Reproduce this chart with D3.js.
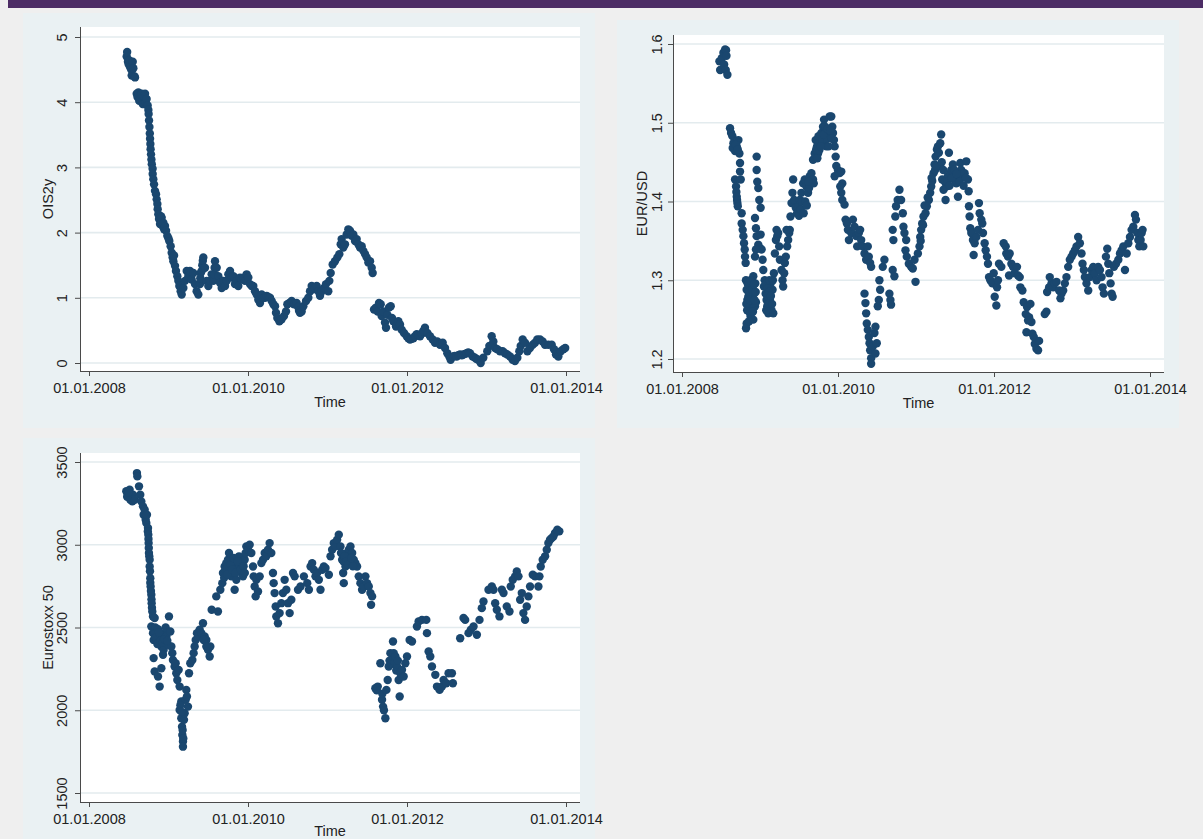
<!DOCTYPE html>
<html><head><meta charset="utf-8">
<script src="https://cdn.jsdelivr.net/npm/d3@7"></script>
<style>
html,body{margin:0;padding:0;background:#efefef;}
svg{display:block;}
text{font-family:"Liberation Sans",Arial,Helvetica,sans-serif;}
</style></head><body>
<svg id="chart" width="1203" height="839"></svg>
<script>
// ---------- DATA (decimal year, value) ----------
const xTickValues = [2008, 2010, 2012, 2014];
const xTickLabels = ["01.01.2008", "01.01.2010", "01.01.2012", "01.01.2014"];
const oisTicks = [0, 1, 2, 3, 4, 5];
const eurTicks = [1.2, 1.3, 1.4, 1.5, 1.6];
const stoxxTicks = [1500, 2000, 2500, 3000, 3500];

const ois2y = [
[2008.474,4.70],[2008.480,4.77],[2008.490,4.62],[2008.500,4.58],[2008.508,4.64],[2008.516,4.54],[2008.530,4.50],[2008.537,4.41],[2008.550,4.62],[2008.558,4.52],[2008.570,4.40],[2008.579,4.38],
[2008.600,4.13],[2008.610,4.08],[2008.621,4.15],[2008.632,4.02],[2008.642,4.05],[2008.652,4.12],[2008.662,4.13],[2008.673,3.98],[2008.684,3.97],[2008.695,4.08],[2008.705,4.13],[2008.715,4.00],[2008.725,4.05],[2008.738,3.95],[2008.747,3.88],
[2008.750,3.82],[2008.755,3.72],[2008.760,3.62],[2008.765,3.52],[2008.768,3.44],[2008.772,3.36],[2008.775,3.28],[2008.780,3.20],[2008.785,3.12],[2008.790,3.05],[2008.800,2.98],
[2008.801,2.90],[2008.809,2.82],[2008.818,2.74],[2008.830,2.64],[2008.843,2.59],[2008.851,2.51],[2008.860,2.44],[2008.864,2.36],[2008.872,2.28],[2008.881,2.21],[2008.893,2.13],
[2008.905,2.25],[2008.914,2.23],[2008.925,2.10],[2008.935,2.15],[2008.945,2.05],[2008.956,2.10],[2008.969,2.03],[2008.985,1.95],[2009.000,1.91],[2009.010,1.87],[2009.027,1.79],[2009.040,1.69],[2009.052,1.62],[2009.061,1.56],[2009.070,1.65],[2009.082,1.49],[2009.094,1.41],[2009.111,1.33],[2009.124,1.26],[2009.136,1.18],[2009.153,1.10],[2009.166,1.05],
[2009.187,1.15],[2009.208,1.26],[2009.229,1.41],[2009.250,1.33],[2009.270,1.41],[2009.291,1.28],[2009.312,1.38],[2009.333,1.21],[2009.354,1.10],[2009.375,1.05],[2009.396,1.21],[2009.400,1.30],[2009.405,1.38],[2009.417,1.41],[2009.425,1.50],[2009.432,1.57],[2009.438,1.62],[2009.459,1.46],[2009.480,1.26],[2009.501,1.18],[2009.522,1.26],[2009.543,1.36],[2009.564,1.26],[2009.575,1.36],[2009.580,1.46],[2009.585,1.56],[2009.606,1.46],[2009.627,1.33],[2009.648,1.23],[2009.669,1.15],[2009.690,1.26],[2009.711,1.18],[2009.732,1.26],[2009.753,1.36],[2009.774,1.41],[2009.795,1.31],[2009.816,1.33],[2009.836,1.21],[2009.857,1.26],[2009.878,1.18],[2009.899,1.31],[2009.920,1.28],[2009.941,1.31],[2009.962,1.26],[2009.983,1.36],[2010.004,1.31],[2010.025,1.21],[2010.046,1.18],
[2010.067,1.18],[2010.088,1.10],[2010.109,1.05],[2010.130,0.97],[2010.151,0.92],[2010.172,1.05],[2010.193,1.00],[2010.214,1.00],[2010.235,1.03],[2010.256,1.01],[2010.277,1.00],[2010.298,0.95],[2010.319,0.90],[2010.340,0.87],[2010.352,0.77],[2010.369,0.69],[2010.394,0.64],[2010.408,0.66],[2010.423,0.67],[2010.453,0.72],[2010.478,0.79],[2010.495,0.90],[2010.520,0.92],[2010.549,0.95],[2010.579,0.90],[2010.612,0.92],[2010.630,0.86],[2010.642,0.80],[2010.654,0.77],[2010.675,0.79],[2010.696,0.87],[2010.730,0.95],[2010.759,1.00],[2010.780,1.10],[2010.801,1.18],[2010.822,1.13],[2010.843,1.15],[2010.864,1.18],[2010.885,1.10],[2010.906,1.03],[2010.927,1.10],[2010.956,1.15],[2010.981,1.21],[2011.010,1.10],[2011.023,1.26],[2011.040,1.38],[2011.065,1.51],[2011.094,1.56],[2011.124,1.62],[2011.149,1.67],[2011.166,1.82],[2011.178,1.90],[2011.199,1.77],[2011.220,1.82],[2011.241,1.97],[2011.262,2.05],[2011.283,2.03],[2011.304,1.95],[2011.325,1.97],[2011.346,1.87],[2011.367,1.90],[2011.388,1.82],[2011.409,1.77],[2011.430,1.79],[2011.451,1.72],[2011.472,1.67],[2011.493,1.62],[2011.514,1.54],[2011.535,1.56],[2011.556,1.46],[2011.568,1.38],
[2011.585,0.82],[2011.610,0.85],[2011.631,0.79],[2011.648,0.92],[2011.669,0.90],[2011.681,0.72],[2011.702,0.79],[2011.723,0.62],[2011.736,0.54],[2011.753,0.74],[2011.774,0.85],[2011.795,0.87],[2011.811,0.69],[2011.828,0.64],[2011.862,0.56],[2011.891,0.64],[2011.912,0.59],[2011.933,0.51],[2011.962,0.46],[2011.996,0.41],[2012.017,0.38],[2012.038,0.36],[2012.059,0.37],[2012.080,0.38],[2012.101,0.41],[2012.122,0.44],[2012.143,0.43],[2012.164,0.41],[2012.185,0.45],[2012.205,0.49],[2012.226,0.54],[2012.256,0.46],[2012.289,0.41],[2012.323,0.36],[2012.352,0.31],[2012.382,0.33],[2012.415,0.28],[2012.449,0.31],[2012.478,0.23],[2012.507,0.15],[2012.532,0.10],[2012.549,0.05],[2012.583,0.10],[2012.600,0.11],[2012.625,0.10],[2012.645,0.12],[2012.667,0.13],[2012.690,0.12],[2012.709,0.13],[2012.730,0.14],[2012.751,0.15],[2012.770,0.16],[2012.792,0.15],[2012.826,0.10],[2012.855,0.08],[2012.875,0.06],[2012.897,0.05],[2012.927,0.00],[2012.960,0.08],
[2013.010,0.18],[2013.036,0.26],[2013.065,0.41],[2013.086,0.33],[2013.107,0.23],[2013.136,0.21],[2013.170,0.18],[2013.203,0.18],[2013.233,0.15],[2013.262,0.13],[2013.296,0.10],[2013.329,0.05],[2013.358,0.03],[2013.388,0.08],[2013.413,0.18],[2013.430,0.26],[2013.455,0.36],[2013.484,0.31],[2013.514,0.18],[2013.547,0.23],[2013.581,0.28],[2013.610,0.31],[2013.639,0.36],[2013.673,0.36],[2013.706,0.33],[2013.736,0.28],[2013.778,0.28],[2013.820,0.28],[2013.849,0.21],[2013.874,0.13],[2013.904,0.10],[2013.933,0.18],[2013.966,0.21],[2013.990,0.23]
];

const eurusd = [
[2008.480,1.578],[2008.489,1.567],[2008.510,1.582],[2008.531,1.589],[2008.540,1.574],[2008.553,1.593],[2008.561,1.567],[2008.565,1.592],[2008.570,1.585],[2008.582,1.561],
[2008.616,1.493],[2008.629,1.487],[2008.646,1.483],[2008.659,1.474],[2008.680,1.464],[2008.702,1.470],[2008.723,1.478],[2008.736,1.461],[2008.744,1.449],[2008.650,1.468],[2008.690,1.472],[2008.715,1.466],
[2008.680,1.428],[2008.693,1.419],[2008.697,1.412],[2008.702,1.406],[2008.706,1.402],[2008.710,1.398],[2008.715,1.394],[2008.744,1.438],[2008.753,1.428],[2008.765,1.385],[2008.765,1.372],[2008.778,1.364],[2008.787,1.356],[2008.795,1.347],[2008.804,1.339],[2008.808,1.330],[2008.816,1.322],
[2008.821,1.239],[2008.829,1.245],[2008.829,1.288],[2008.838,1.275],[2008.850,1.279],[2008.850,1.262],[2008.861,1.267],[2008.872,1.292],[2008.872,1.258],[2008.880,1.254],[2008.885,1.285],[2008.893,1.300],[2008.893,1.267],[2008.906,1.275],[2008.914,1.305],[2008.914,1.250],[2008.923,1.283],[2008.936,1.267],[2008.940,1.296],[2008.948,1.272],[2008.820,1.300],[2008.835,1.262],[2008.860,1.248],
[2008.825,1.270],[2008.845,1.295],[2008.855,1.285],[2008.868,1.275],[2008.878,1.300],[2008.900,1.288],[2008.910,1.260],[2008.925,1.295],[2008.930,1.275],[2008.945,1.285],
[2008.957,1.457],[2008.957,1.440],[2008.965,1.425],[2008.978,1.417],[2008.991,1.402],[2009.008,1.392],[2008.936,1.379],[2008.948,1.366],[2008.957,1.356],[2008.978,1.345],[2008.999,1.341],[2009.008,1.358],[2009.021,1.339],[2009.033,1.326],[2009.042,1.313],[2009.050,1.292],[2008.936,1.330],[2008.948,1.339],
[2009.072,1.283],[2009.084,1.275],[2009.093,1.267],[2009.106,1.258],[2009.127,1.275],[2009.148,1.262],[2009.170,1.258],[2009.136,1.296],[2009.161,1.288],[2009.178,1.309],[2009.060,1.300],[2009.075,1.295],[2009.100,1.290],[2009.115,1.285],
[2009.080,1.262],[2009.095,1.280],[2009.110,1.270],[2009.120,1.300],[2009.140,1.280],[2009.155,1.270],[2009.165,1.300],
[2009.191,1.334],[2009.204,1.351],[2009.212,1.364],[2009.221,1.356],[2009.233,1.360],[2009.246,1.343],[2009.255,1.326],[2009.276,1.313],[2009.289,1.300],[2009.297,1.292],[2009.310,1.309],[2009.319,1.322],[2009.331,1.330],[2009.348,1.343],[2009.361,1.351],[2009.374,1.360],[2009.382,1.364],[2009.340,1.364],
[2009.391,1.381],[2009.404,1.398],[2009.416,1.411],[2009.425,1.428],[2009.438,1.402],[2009.459,1.392],[2009.476,1.385],[2009.497,1.394],[2009.510,1.402],[2009.531,1.411],[2009.553,1.423],[2009.574,1.428],[2009.595,1.419],[2009.616,1.411],[2009.629,1.417],[2009.638,1.432],[2009.659,1.436],[2009.680,1.428],[2009.689,1.423],
[2009.500,1.382],[2009.520,1.390],[2009.540,1.400],[2009.560,1.385],[2009.580,1.400],[2009.600,1.395],[2009.620,1.425],
[2009.680,1.453],[2009.701,1.461],[2009.714,1.478],[2009.731,1.470],[2009.744,1.461],[2009.765,1.478],[2009.787,1.487],[2009.808,1.495],[2009.821,1.504],[2009.842,1.491],[2009.829,1.474],[2009.850,1.470],[2009.872,1.483],[2009.893,1.508],[2009.914,1.508],[2009.927,1.495],[2009.936,1.487],[2009.948,1.478],[2009.957,1.470],[2009.970,1.457],[2009.720,1.466],[2009.750,1.483],[2009.800,1.478],[2009.860,1.480],
[2009.735,1.455],[2009.760,1.465],[2009.780,1.470],[2009.815,1.485],[2009.835,1.495],[2009.865,1.492],[2009.880,1.470],[2009.900,1.490],[2009.920,1.480],
[2009.957,1.432],[2009.978,1.445],[2009.999,1.440],[2010.021,1.436],[2010.042,1.438],[2010.055,1.423],[2010.029,1.419],[2010.042,1.411],[2010.055,1.402],[2010.084,1.396],[2010.097,1.377],[2010.114,1.372],[2010.127,1.364],[2010.140,1.351],[2010.170,1.360],[2010.191,1.377],[2010.212,1.368],[2010.233,1.356],[2010.246,1.343],[2010.267,1.360],[2010.284,1.364],[2010.297,1.351],[2010.318,1.343],[2010.340,1.334],[2010.361,1.326],[2010.382,1.343],[2010.395,1.330],[2010.412,1.322],[2010.425,1.317],
[2010.340,1.283],[2010.352,1.271],[2010.361,1.258],[2010.369,1.245],[2010.382,1.237],[2010.395,1.228],[2010.404,1.220],[2010.412,1.211],[2010.425,1.201],[2010.425,1.194],[2010.446,1.216],[2010.467,1.233],[2010.480,1.241],[2010.497,1.220],[2010.480,1.207],
[2010.510,1.267],[2010.523,1.275],[2010.540,1.288],[2010.531,1.300],[2010.574,1.317],[2010.595,1.326],[2010.659,1.283],[2010.672,1.275],[2010.680,1.269],[2010.701,1.313],[2010.723,1.305],[2010.701,1.364],[2010.710,1.351],[2010.735,1.381],[2010.744,1.394],[2010.765,1.402],
[2010.788,1.415],[2010.809,1.402],[2010.831,1.385],[2010.839,1.368],[2010.852,1.360],[2010.874,1.351],[2010.865,1.338],[2010.882,1.330],[2010.908,1.321],[2010.938,1.317],[2010.959,1.315],[2010.994,1.298],[2010.981,1.326],[2011.024,1.334],[2011.045,1.343],[2011.054,1.355],[2011.066,1.364],[2011.079,1.372],[2011.096,1.381],[2011.122,1.385],[2011.139,1.394],[2011.165,1.402],[2011.182,1.411],[2011.195,1.419],[2011.208,1.426],[2011.225,1.436],[2011.238,1.447],[2011.251,1.457],[2011.268,1.466],[2011.281,1.470],[2011.293,1.462],[2011.311,1.474],[2011.323,1.485],[2011.311,1.445],[2011.336,1.428],[2011.353,1.415],[2011.379,1.402],[2011.388,1.419],[2011.409,1.432],[2011.422,1.462],[2011.439,1.436],[2011.452,1.440],[2011.473,1.447],[2011.495,1.428],[2011.516,1.423],[2011.538,1.406],[2011.550,1.428],[2011.568,1.449],[2011.580,1.440],[2011.602,1.432],[2011.623,1.436],[2011.645,1.451],[2011.666,1.428],[2011.675,1.413],
[2011.060,1.350],[2011.090,1.370],[2011.110,1.395],[2011.150,1.405],[2011.200,1.430],[2011.245,1.440],[2011.260,1.445],
[2011.330,1.450],[2011.350,1.440],[2011.370,1.425],[2011.400,1.425],[2011.430,1.420],[2011.460,1.430],[2011.490,1.440],[2011.520,1.435],[2011.560,1.425],[2011.610,1.420],[2011.640,1.430],
[2011.679,1.394],[2011.687,1.381],[2011.696,1.366],[2011.709,1.360],[2011.730,1.351],[2011.752,1.347],[2011.773,1.355],[2011.795,1.364],[2011.807,1.398],[2011.816,1.385],[2011.837,1.377],[2011.850,1.372],[2011.859,1.360],[2011.880,1.347],[2011.893,1.338],[2011.910,1.330],[2011.923,1.321],[2011.739,1.332],
[2011.936,1.304],[2011.953,1.300],[2011.979,1.296],[2011.996,1.309],[2012.009,1.279],[2012.030,1.268],[2012.039,1.291],[2012.051,1.300],[2012.064,1.321],[2012.094,1.317],
[2012.124,1.347],[2012.150,1.343],[2012.158,1.334],[2012.180,1.330],[2012.201,1.334],[2012.223,1.321],[2012.193,1.306],[2012.244,1.317],[2012.265,1.309],[2012.295,1.317],[2012.308,1.306],[2012.330,1.304],[2012.338,1.291],[2012.364,1.287],
[2012.381,1.272],[2012.407,1.257],[2012.424,1.266],[2012.450,1.253],[2012.467,1.270],[2012.480,1.247],[2012.416,1.234],[2012.437,1.249],[2012.493,1.232],[2012.510,1.228],[2012.523,1.219],[2012.544,1.213],[2012.565,1.211],[2012.578,1.223],
[2012.651,1.257],[2012.672,1.260],[2012.681,1.285],[2012.707,1.291],[2012.715,1.304],[2012.737,1.296],[2012.758,1.291],[2012.779,1.296],[2012.801,1.298],[2012.835,1.287],[2012.852,1.277],[2012.865,1.283],[2012.887,1.287],[2012.908,1.296],[2012.929,1.304],[2012.951,1.317],[2012.972,1.326],[2012.994,1.330],[2013.015,1.334],[2013.037,1.338],[2013.058,1.343],[2013.079,1.355],[2013.101,1.347],[2013.122,1.334],
[2013.135,1.321],[2013.152,1.313],[2013.165,1.304],[2013.186,1.296],[2013.208,1.287],[2013.229,1.304],[2013.251,1.313],[2013.272,1.317],[2013.293,1.309],[2013.315,1.300],[2013.336,1.317],[2013.358,1.313],[2013.379,1.304],[2013.392,1.291],[2013.409,1.283],[2013.435,1.330],[2013.452,1.340],[2013.465,1.321],[2013.478,1.309],[2013.495,1.296],[2013.508,1.283],[2013.521,1.279],
[2013.538,1.317],[2013.564,1.321],[2013.594,1.326],[2013.615,1.334],[2013.636,1.338],[2013.658,1.343],[2013.679,1.313],[2013.701,1.334],[2013.722,1.347],[2013.743,1.355],[2013.764,1.364],[2013.786,1.368],[2013.807,1.383],[2013.820,1.377],[2013.837,1.360],[2013.850,1.351],[2013.863,1.343],[2013.880,1.351],[2013.893,1.360],[2013.905,1.364],[2013.914,1.343]
];

const eurostoxx = [
[2008.469,3323],[2008.490,3302],[2008.511,3333],[2008.532,3282],[2008.545,3262],[2008.520,3272],[2008.553,3302],[2008.574,3272],[2008.480,3290],[2008.500,3315],
[2008.603,3433],[2008.608,3413],[2008.629,3353],[2008.645,3302],[2008.658,3262],[2008.679,3232],[2008.687,3181],[2008.700,3212],[2008.713,3151],[2008.721,3131],[2008.729,3181],[2008.742,3101],[2008.740,3080],[2008.746,3061],[2008.748,3035],[2008.750,3010],[2008.752,2980],[2008.754,2950],[2008.758,2930],[2008.763,2909],[2008.767,2840],[2008.763,2869],[2008.771,2798],[2008.771,2770],[2008.775,2748],[2008.779,2720],[2008.784,2698],[2008.786,2670],[2008.788,2647],[2008.792,2620],[2008.796,2597],[2008.805,2567],[2008.826,2557],[2008.784,2506],[2008.805,2466],[2008.813,2425],[2008.834,2500],[2008.847,2466],[2008.855,2425],[2008.868,2490],[2008.889,2446],[2008.910,2385],[2008.922,2425],[2008.939,2365],[2008.952,2466],[2008.964,2500],[2008.973,2446],[2008.994,2395],[2009.006,2567],[2009.023,2476],[2009.036,2385],[2008.813,2315],[2008.826,2234],[2008.868,2204],[2008.889,2143],[2008.910,2254],[2008.931,2335],
[2008.820,2460],[2008.840,2440],[2008.860,2400],[2008.880,2470],[2008.900,2420],[2008.930,2410],[2008.945,2430],[2008.985,2420],
[2009.048,2345],[2009.056,2304],[2009.077,2264],[2009.090,2284],[2009.098,2224],[2009.111,2183],[2009.128,2244],[2009.140,2143],[2009.161,2053],[2009.140,2002],[2009.161,1952],[2009.170,1901],[2009.174,1851],[2009.182,1811],[2009.182,1780],[2009.195,1942],[2009.203,1982],[2009.216,2063],[2009.224,2123],[2009.232,2083],[2009.245,2022],[2009.150,2030],[2009.165,1990],[2009.178,1880],[2009.186,1830],
[2009.258,2224],[2009.274,2284],[2009.300,2304],[2009.316,2345],[2009.329,2385],[2009.342,2425],[2009.358,2466],[2009.375,2446],[2009.392,2486],[2009.413,2466],[2009.434,2526],[2009.455,2446],[2009.476,2425],[2009.497,2365],[2009.518,2325],[2009.526,2385],[2009.442,2425],[2009.476,2385],
[2009.543,2607],[2009.622,2597],[2009.601,2688],[2009.652,2728],[2009.677,2768],[2009.685,2829],[2009.706,2869],[2009.727,2889],[2009.748,2909],[2009.761,2950],[2009.769,2849],[2009.790,2809],[2009.811,2889],[2009.832,2728],[2009.853,2788],[2009.861,2869],[2009.887,2930],[2009.895,2869],[2009.916,2829],[2009.928,2889],[2009.937,2809],[2009.958,2909],[2009.970,2950],[2009.979,2990],[2010.000,2970],[2010.021,3000],[2010.042,2950],[2010.063,2869],[2010.071,2809],[2010.084,2748],[2010.096,2688],[2010.105,2788],[2010.126,2718],[2010.147,2809],[2010.168,2889],[2010.189,2909],[2010.210,2950],[2010.230,2930],[2010.251,2970],[2010.272,3010],[2010.293,2950],[2010.314,2829],[2010.323,2768],[2010.335,2708],[2010.348,2627],[2010.356,2567],[2010.377,2526],[2010.398,2587],[2010.419,2647],[2010.440,2708],[2010.461,2788],[2010.482,2728],[2010.503,2647],[2010.524,2587],[2010.545,2668],[2010.566,2829],[2010.587,2809],[2010.629,2728],
[2009.700,2800],[2009.720,2850],[2009.740,2820],[2009.780,2880],[2009.800,2850],[2009.820,2920],[2009.840,2830],[2009.870,2900],[2009.905,2850],[2009.945,2870],[2009.960,2830],
[2010.661,2748],[2010.703,2809],[2010.745,2768],[2010.766,2728],[2010.787,2869],[2010.807,2889],[2010.828,2849],[2010.849,2809],[2010.870,2829],[2010.891,2788],[2010.912,2728],[2010.933,2849],[2010.954,2869],[2010.975,2859],[2011.017,2819],
[2011.038,2930],[2011.058,2970],[2011.079,3010],[2011.100,2990],[2011.121,3030],[2011.142,3061],[2011.163,2990],[2011.184,2909],[2011.197,2829],[2011.205,2768],[2011.226,2869],[2011.247,2950],[2011.268,2970],[2011.289,2990],[2011.310,2950],[2011.330,2909],[2011.351,2889],[2011.372,2869],[2011.393,2809],[2011.414,2768],[2011.435,2728],[2011.456,2748],[2011.477,2809],[2011.498,2768],[2011.519,2748],[2011.540,2708],[2011.561,2688],[2011.548,2637],
[2011.170,2950],[2011.200,2900],[2011.215,2930],[2011.240,2900],[2011.260,2880],[2011.300,2920],[2011.320,2870],
[2011.602,2133],[2011.620,2120],[2011.632,2143],[2011.665,2284],[2011.686,2063],[2011.690,2100],[2011.699,2022],[2011.710,2000],[2011.728,1952],[2011.741,2123],[2011.757,2183],[2011.770,2264],[2011.780,2300],[2011.791,2345],[2011.800,2280],[2011.812,2304],[2011.824,2415],[2011.833,2345],[2011.845,2290],[2011.854,2325],[2011.865,2240],[2011.874,2264],[2011.885,2300],[2011.895,2183],[2011.908,2083],[2011.916,2224],[2011.937,2244],[2011.958,2204],[2011.979,2284],[2012.000,2325],[2012.033,2425],[2012.063,2415],[2012.125,2506],[2012.146,2536],[2012.188,2546],[2012.243,2546],[2012.251,2466],[2012.272,2355],[2012.293,2325],[2012.314,2264],[2012.356,2214],[2012.377,2143],[2012.410,2123],[2012.439,2143],[2012.460,2183],[2012.494,2163],[2012.523,2224],[2012.565,2224],[2012.577,2163],
[2012.669,2435],[2012.711,2557],[2012.732,2546],[2012.774,2466],[2012.803,2486],[2012.837,2506],[2012.879,2456],[2012.912,2546],[2012.941,2617],[2012.962,2657],[2013.025,2728],[2013.067,2748],[2013.088,2728],[2013.109,2647],[2013.130,2607],[2013.163,2567],[2013.193,2728],[2013.214,2708],[2013.255,2627],[2013.289,2597],[2013.305,2748],[2013.330,2788],[2013.360,2809],[2013.381,2839],[2013.402,2809],[2013.423,2668],[2013.444,2708],[2013.464,2587],[2013.485,2546],[2013.506,2627],[2013.527,2688],[2013.548,2748],[2013.582,2819],[2013.611,2809],[2013.653,2748],[2013.666,2809],[2013.682,2869],[2013.707,2909],[2013.737,2930],[2013.758,2970],[2013.778,3010],[2013.799,3030],[2013.820,3040],[2013.841,3050],[2013.862,3071],[2013.891,3091],[2013.916,3081]
];

// ---------- LAYOUT / STYLE ----------
const W = 1203, H = 839;
const C = {
  page: "#efefef", bar: "#4c2c65", region: "#eaf1f3", plot: "#ffffff",
  grid: "#e3ebee", axis: "#4a4a4a", text: "#222222", marker: "#1a476f"
};
const FS = 14.5;

const panels = [
  {data: ois2y, title: "OIS2y", yTicks: oisTicks, fmt: d => String(d),
   bg: {x: 23, y: 13, w: 572, h: 415}, plot: {x: 80, y: 27, w: 500, h: 344},
   xRange: [89, 566], yRange: [363, 37], labOff: 13, titleOff: 27, timeOff: 36},
  {data: eurusd, title: "EUR/USD", yTicks: eurTicks, fmt: d => d.toFixed(1),
   bg: {x: 617, y: 20, w: 562, h: 408}, plot: {x: 673, y: 35, w: 491, h: 337},
   xRange: [682, 1150], yRange: [359, 44], labOff: 11.5, titleOff: 26.5, timeOff: 36},
  {data: eurostoxx, title: "Eurostoxx 50", yTicks: stoxxTicks, fmt: d => String(d),
   bg: {x: 23, y: 438, w: 572, h: 401}, plot: {x: 80, y: 453, w: 500, h: 349},
   xRange: [89, 566], yRange: [793, 462], labOff: 13, titleOff: 27, timeOff: 34}
];

const svg = d3.select("#chart");
svg.append("rect").attr("width", W).attr("height", H).attr("fill", C.page);
svg.append("rect").attr("x", 8).attr("y", 0).attr("width", W - 8).attr("height", 8).attr("fill", C.bar);

panels.forEach(p => {
  const g = svg.append("g");
  g.append("rect").attr("x", p.bg.x).attr("y", p.bg.y).attr("width", p.bg.w).attr("height", p.bg.h).attr("fill", C.region);
  g.append("rect").attr("x", p.plot.x).attr("y", p.plot.y).attr("width", p.plot.w).attr("height", p.plot.h).attr("fill", C.plot);

  const x = d3.scaleLinear().domain([xTickValues[0], xTickValues[xTickValues.length - 1]]).range(p.xRange);
  const y = d3.scaleLinear().domain([p.yTicks[0], p.yTicks[p.yTicks.length - 1]]).range(p.yRange);
  const bottom = p.plot.y + p.plot.h;

  g.append("g").selectAll("line").data(p.yTicks).join("line")
    .attr("x1", p.plot.x).attr("x2", p.plot.x + p.plot.w)
    .attr("y1", d => y(d)).attr("y2", d => y(d))
    .attr("stroke", C.grid).attr("stroke-width", 1.6);

  g.append("g").selectAll("circle").data(p.data).join("circle")
    .attr("cx", d => x(d[0])).attr("cy", d => y(d[1])).attr("r", 4.2)
    .attr("fill", C.marker);

  const ya = g.append("g").attr("transform", `translate(${p.plot.x},0)`)
    .call(d3.axisLeft(y).tickValues(p.yTicks).tickSize(5).tickFormat(p.fmt));
  ya.select(".domain").remove();
  ya.selectAll(".tick line").attr("stroke", C.axis);
  ya.selectAll(".tick text")
    .attr("x", null).attr("dy", null).attr("y", null)
    .attr("transform", `translate(${-p.labOff},0) rotate(-90)`)
    .attr("text-anchor", "middle").attr("fill", C.text)
    .style("font-size", FS + "px").style("font-family", '"Liberation Sans", Arial, sans-serif');
  g.append("line").attr("x1", p.plot.x + 0.5).attr("x2", p.plot.x + 0.5)
    .attr("y1", p.plot.y).attr("y2", bottom + 0.5).attr("stroke", C.axis);

  const xa = g.append("g").attr("transform", `translate(0,${bottom})`)
    .call(d3.axisBottom(x).tickValues(xTickValues).tickSize(5).tickFormat((d, i) => xTickLabels[i]));
  xa.select(".domain").remove();
  xa.selectAll(".tick line").attr("stroke", C.axis);
  xa.selectAll(".tick text").attr("y", 22).attr("dy", null).attr("fill", C.text)
    .style("font-size", FS + "px").style("font-family", '"Liberation Sans", Arial, sans-serif');
  g.append("line").attr("x1", p.plot.x).attr("x2", p.plot.x + p.plot.w)
    .attr("y1", bottom + 0.5).attr("y2", bottom + 0.5).attr("stroke", C.axis);

  g.append("text").attr("x", p.plot.x + p.plot.w / 2).attr("y", bottom + p.timeOff)
    .attr("text-anchor", "middle").attr("fill", C.text).style("font-size", FS + "px").text("Time");
  g.append("text")
    .attr("transform", `translate(${p.plot.x - p.titleOff},${p.plot.y + p.plot.h / 2}) rotate(-90)`)
    .attr("text-anchor", "middle").attr("fill", C.text).style("font-size", FS + "px").text(p.title);
});
</script>
</body></html>
